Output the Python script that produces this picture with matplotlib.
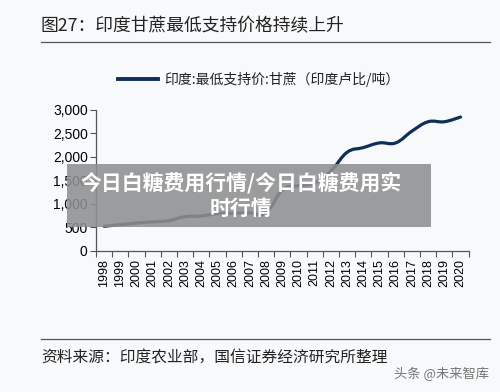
import numpy as np
import matplotlib
matplotlib.use("Agg")
import matplotlib.pyplot as plt
from matplotlib.patches import Rectangle, PathPatch
from matplotlib.path import Path
from matplotlib.lines import Line2D

plt.rcParams['font.family'] = ['Liberation Sans', 'Noto Sans CJK SC', 'DejaVu Sans']

# 数据：印度甘蔗最低支持价（印度卢比/吨）
years = list(range(1998, 2021))
price = [527, 561, 595, 620, 645, 730, 745, 795, 802, 812, 812, 1298,
         1391, 1450, 1700, 2100, 2200, 2300, 2300, 2550, 2750, 2750, 2850]

title = "图27：印度甘蔗最低支持价格持续上升"
legend_label = "印度:最低支持价:甘蔗（印度卢比/吨）"
source = "资料来源：印度农业部，国信证券经济研究所整理"
overlay = "今日白糖费用行情/今日白糖费用实\n时行情"
watermark = "头条 @未来智库"

bg = '#f7f9fb'
line_c = '#0e2f56'
cjk = ['Noto Sans CJK SC', 'DejaVu Sans']


def smooth_path(x, y, t=0.2):
    # 平滑折线（类似Excel平滑线），用贝塞尔曲线连接数据点
    x = np.asarray(x, float)
    y = np.asarray(y, float)
    verts = [(x[0], y[0])]
    codes = [Path.MOVETO]
    n = len(x)
    for i in range(n - 1):
        x0, y0 = (x[i-1], y[i-1]) if i > 0 else (x[i], y[i])
        x3, y3 = (x[i+2], y[i+2]) if i < n - 2 else (x[i+1], y[i+1])
        c1 = (x[i] + t * (x[i+1] - x0), y[i] + t * (y[i+1] - y0))
        c2 = (x[i+1] - t * (x3 - x[i]), y[i+1] - t * (y3 - y[i]))
        verts += [c1, c2, (x[i+1], y[i+1])]
        codes += [Path.CURVE4] * 3
    return Path(verts, codes)


fig = plt.figure(figsize=(5, 3.92), dpi=100)
fig.patch.set_facecolor(bg)

ax = fig.add_axes([96/500, 1-251/392, (468.6-96)/500, (251-110)/392])
ax.set_facecolor(bg)
ax.add_patch(PathPatch(smooth_path(years, price), facecolor='none',
                       edgecolor=line_c, lw=2.3, capstyle='round'))
ax.set_xlim(1997.5, 2020.5)
ax.set_ylim(0, 3000)
ax.set_yticks(np.arange(0, 3001, 500))
ax.set_yticklabels([f"{v:,}" for v in range(0, 3001, 500)], fontsize=10)
ax.set_xticks(np.arange(1997.5, 2021, 1))
ax.set_xticklabels([])
ax.set_xticks(years, minor=True)
ax.set_xticklabels([str(y) for y in years], minor=True, rotation=90, fontsize=9)
ax.tick_params(axis='x', which='minor', length=0, pad=6)
ax.tick_params(axis='both', which='major', length=4, color='#555555', width=0.8)
ax.tick_params(axis='y', pad=2)
for s in ['top', 'right']:
    ax.spines[s].set_visible(False)
for s in ['left', 'bottom']:
    ax.spines[s].set_color('#555555')
    ax.spines[s].set_linewidth(0.9)

# 标题与分隔线
fig.text(41/500, 1-26/392, title, family=cjk, fontsize=12.8, va='center', ha='left',
         color='#222222', fontweight='medium')
fig.add_artist(Line2D([41/500, 490/500], [1-42/392, 1-42/392], color='#555555', lw=0.9))

# 图例
fig.add_artist(Line2D([118/500, 158/500], [1-79/392, 1-79/392], color=line_c, lw=2.8))
fig.text(164/500, 1-79/392, legend_label, family=cjk, fontsize=10, va='center', ha='left', color='#222222')

# 底部来源
fig.add_artist(Line2D([41/500, 490/500], [1-339/392, 1-339/392], color='#555555', lw=0.9))
fig.text(41/500, 1-358/392, source, family=cjk, fontsize=11.3, va='center', ha='left', color='#222222')
fig.text(489/500, 1-374/392, watermark, family=cjk, fontsize=9.5, va='center', ha='right',
         color='#555555', alpha=0.8)

# 覆盖层
fig.add_artist(Rectangle((67/500, 1-227/392), (431-67)/500, (227-164)/392,
                         transform=fig.transFigure, facecolor='#8e8f90', alpha=0.88, edgecolor='none'))
fig.text(241/500, 1-195/392, overlay, family=cjk, fontsize=15, fontweight='bold',
         color='white', ha='center', va='center', linespacing=1.25, multialignment='center')

fig.savefig("out.png", dpi=100, facecolor=bg)
